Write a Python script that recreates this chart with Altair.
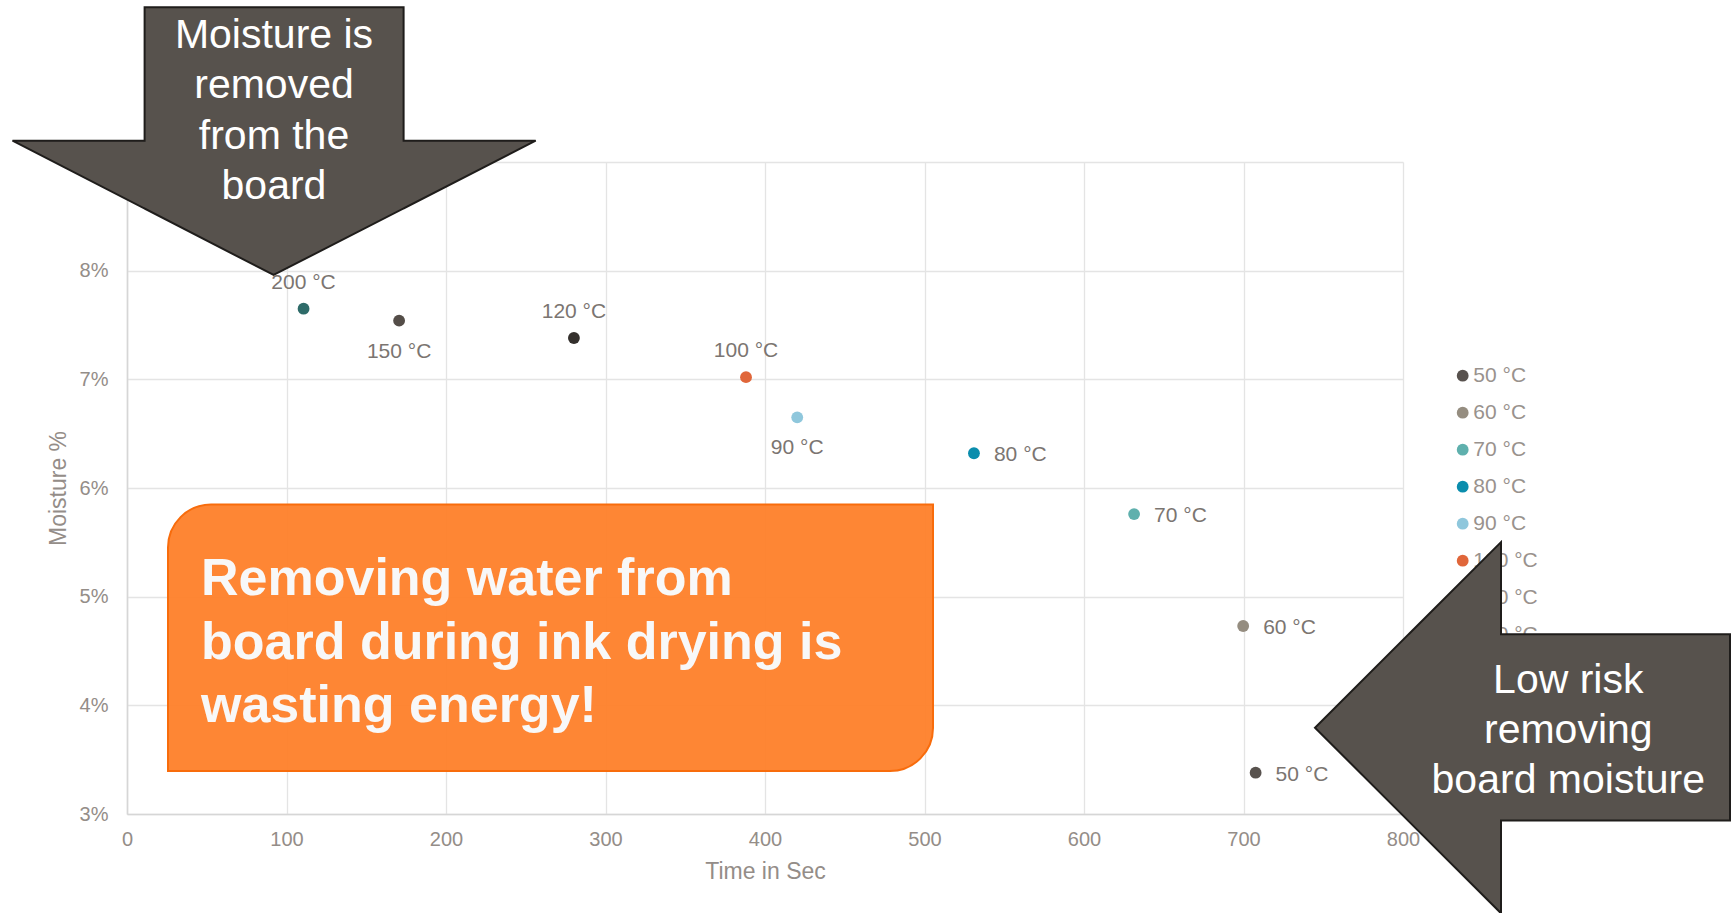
import altair as alt
import pandas as pd

# ---------------- data ----------------
labels = ["50 °C", "60 °C", "70 °C", "80 °C", "90 °C", "100 °C", "120 °C", "150 °C", "200 °C"]
time_sec = [707.6, 699.8, 631.4, 531.0, 420.2, 388.1, 280.2, 170.6, 110.7]
moisture = [0.0338, 0.0473, 0.0576, 0.0632, 0.0665, 0.0702, 0.0738, 0.0754, 0.0765]
colors = ["#58524e", "#958d80", "#5fb0ad", "#0a8dad", "#8fc7dc", "#e0663a", "#34302d", "#544d48", "#2e6b69"]

labels_above = ["200 °C", "120 °C", "100 °C"]
labels_below = ["150 °C", "90 °C"]
labels_right = ["80 °C", "70 °C", "60 °C", "50 °C"]

x_ticks = [0, 100, 200, 300, 400, 500, 600, 700, 800]
y_ticks = [0.03, 0.04, 0.05, 0.06, 0.07, 0.08, 0.09]

callout_text = ["Removing water from", "board during ink drying is", "wasting energy!"]
down_arrow_text = ["Moisture is", "removed", "from the", "board"]
left_arrow_text = ["Low risk", "removing", "board moisture"]

df = pd.DataFrame({"label": labels, "time": time_sec, "moisture": moisture})

# ---------------- layout ----------------
W, H = 1731, 913
PL, PT = 127, 162
PW, PH = 1276, 652
FONT = "Liberation Sans, Arial, Helvetica, sans-serif"
AXIS_GRAY = "#948d88"
LABEL_GRAY = "#7b7571"
LEGEND_GRAY = "#99928d"
ARROW_FILL = "#57524d"
ARROW_STROKE = "#1f1d1b"

xs = alt.Scale(domain=[0, 800], nice=False, zero=False)
ys = alt.Scale(domain=[0.03, 0.09], nice=False, zero=False)
color_scale = alt.Scale(domain=labels, range=colors)

# page-pixel scales for annotations
px = alt.Scale(domain=[0, W], range=[-PL, W - PL], nice=False, zero=False)
py = alt.Scale(domain=[0, H], range=[-PT, H - PT], nice=False, zero=False)

x_axis = alt.Axis(values=x_ticks, title="Time in Sec", grid=True, ticks=False, tickSize=0,
                  labelPadding=15, titlePadding=11, labelFontSize=20, titleFontSize=23,
                  labelColor=AXIS_GRAY, titleColor=AXIS_GRAY, titleFontWeight="normal",
                  gridColor="#e4e4e4", gridWidth=1.3, domainColor="#d6d6d6", domainWidth=1.6,
                  labelFont=FONT, titleFont=FONT, labelFlush=False)
y_axis = alt.Axis(values=y_ticks, format=".0%", title="Moisture %", grid=True, ticks=False, tickSize=0,
                  labelPadding=19, titlePadding=9, labelFontSize=20, titleFontSize=23,
                  labelColor=AXIS_GRAY, titleColor=AXIS_GRAY, titleFontWeight="normal",
                  gridColor="#e4e4e4", gridWidth=1.3, domainColor="#d6d6d6", domainWidth=1.6,
                  labelFont=FONT, titleFont=FONT, labelFlush=False)

one = alt.InlineData(values=[{"k": 0}])

# callout box
callout_box = alt.Chart(one).mark_rect(
    fill="#fe7f29", fillOpacity=0.95, stroke="#f86c0c", strokeWidth=2,
    cornerRadiusTopLeft=43, cornerRadiusBottomRight=43
).encode(x=alt.value(41), x2=alt.value(806), y=alt.value(342.5), y2=alt.value(609))

callout = alt.Chart(one).mark_text(
    align="left", baseline="alphabetic", font=FONT, fontSize=52, fontWeight="bold",
    color="#f8f8f8", lineHeight=63.7
).encode(x=alt.value(74), y=alt.value(433), text=alt.value(callout_text))

points = alt.Chart(df).mark_circle(size=140, opacity=1).encode(
    x=alt.X("time:Q", scale=xs, axis=x_axis),
    y=alt.Y("moisture:Q", scale=ys, axis=y_axis),
    color=alt.Color("label:N", scale=color_scale, legend=None),
)

def point_labels(subset, **kw):
    return alt.Chart(df).transform_filter(
        alt.FieldOneOfPredicate(field="label", oneOf=subset)
    ).mark_text(font=FONT, fontSize=21, color=LABEL_GRAY, **kw).encode(
        x=alt.X("time:Q", scale=xs, axis=None),
        y=alt.Y("moisture:Q", scale=ys, axis=None),
        text="label:N",
    )

lab_above = point_labels(labels_above, align="center", baseline="alphabetic", dy=-20)
lab_below = point_labels(labels_below, align="center", baseline="alphabetic", dy=37)
lab_right = point_labels(labels_right, align="left", baseline="middle", dx=20, dy=2)

# manual legend (drawn under the arrow)
leg_y = alt.Scale(type="point", domain=labels, range=[375.7 - PT, 375.7 - PT + 37 * 8], padding=0)
legend_sym = alt.Chart(df).mark_circle(size=140, opacity=1).encode(
    x=alt.value(1462.7 - PL),
    y=alt.Y("label:N", scale=leg_y, axis=None),
    color=alt.Color("label:N", scale=color_scale, legend=None),
)
legend_txt = alt.Chart(df).mark_text(
    align="left", baseline="middle", font=FONT, fontSize=21, color=LEGEND_GRAY
).encode(
    x=alt.value(1473.3 - PL),
    y=alt.Y("label:N", scale=leg_y, axis=None),
    text="label:N",
)

# arrows (page pixel geometry)
down_arrow = pd.DataFrame({
    "ax": [12.5, 144.6, 144.61, 273.6, 403.6, 403.61, 535.7],
    "ay": [140.7, 140.7, 7.3, 7.3, 7.3, 140.7, 140.7],
    "ay2": [140.7, 208.6, 208.6, 275.0, 208.4, 208.4, 140.7],
})
left_arrow = pd.DataFrame({
    "by": [542.1, 634.2, 634.21, 727.7, 820.59, 820.6, 913.3],
    "bx": [1501, 1408.7, 1408.7, 1315, 1408.1, 1408.1, 1501],
    "bx2": [1501, 1501, 1730, 1730, 1730, 1501, 1501],
})

arrow_down = alt.Chart(down_arrow).mark_area(
    fill=ARROW_FILL, stroke=ARROW_STROKE, strokeWidth=2, opacity=1, orient="vertical"
).encode(
    x=alt.X("ax:Q", scale=px, axis=None),
    y=alt.Y("ay:Q", scale=py, axis=None),
    y2="ay2:Q",
)
arrow_left = alt.Chart(left_arrow).mark_area(
    fill=ARROW_FILL, stroke=ARROW_STROKE, strokeWidth=2, opacity=1, orient="horizontal"
).encode(
    y=alt.Y("by:Q", scale=py, axis=None),
    x=alt.X("bx:Q", scale=px, axis=None),
    x2="bx2:Q",
)

down_txt = alt.Chart(one).mark_text(
    align="center", baseline="alphabetic", font=FONT, fontSize=41, color="#ffffff", lineHeight=50.5
).encode(x=alt.value(274 - PL), y=alt.value(47.7 - PT), text=alt.value(down_arrow_text))

left_txt = alt.Chart(one).mark_text(
    align="center", baseline="alphabetic", font=FONT, fontSize=41, color="#ffffff", lineHeight=50.3
).encode(x=alt.value(1568.3 - PL), y=alt.value(692.7 - PT), text=alt.value(left_arrow_text))

chart = alt.layer(
    callout_box, points, lab_above, lab_below, lab_right, callout,
    legend_sym, legend_txt, arrow_down, arrow_left, down_txt, left_txt
).resolve_scale(
    x="independent", y="independent", color="independent"
).properties(
    width=PW, height=PH,
    autosize=alt.AutoSizeParams(type="none"),
    padding={"left": PL, "top": PT, "right": W - PL - PW, "bottom": H - PT - PH},
    background="white",
).configure_view(stroke=None)

chart.save("out.html", embed_options={"renderer": "svg", "actions": False})
